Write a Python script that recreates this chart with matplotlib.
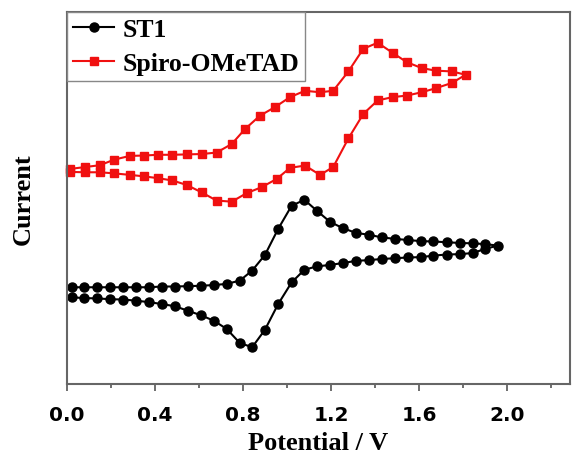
import numpy as np
import matplotlib
matplotlib.use("Agg")
import matplotlib.pyplot as plt
from matplotlib.ticker import MultipleLocator

# ST1: forward scan then reverse scan (potential in V, current in arb. units)
st1_v_fwd = [0.021, 0.077, 0.138, 0.195, 0.256, 0.314, 0.374, 0.430, 0.491, 0.549,
             0.608, 0.668, 0.726, 0.786, 0.842, 0.900, 0.960, 1.021, 1.079, 1.135,
             1.195, 1.253, 1.314, 1.374, 1.430, 1.491, 1.549, 1.608, 1.665, 1.726,
             1.786, 1.844, 1.900, 1.958]
st1_i_fwd = [26.0, 26.0, 26.0, 26.0, 26.0, 26.0, 26.0, 26.2, 26.2, 26.3,
             26.4, 26.6, 26.9, 27.8, 30.5, 34.7, 41.7, 47.9, 49.5, 46.6,
             43.6, 41.9, 40.6, 40.1, 39.4, 39.0, 38.7, 38.4, 38.3, 38.1,
             37.9, 37.8, 37.6, 37.2]
st1_v_rev = [1.900, 1.844, 1.786, 1.726, 1.665, 1.608, 1.549, 1.491, 1.430, 1.374,
             1.314, 1.253, 1.195, 1.135, 1.079, 1.021, 0.960, 0.900, 0.842, 0.786,
             0.726, 0.668, 0.608, 0.549, 0.491, 0.430, 0.374, 0.314, 0.256, 0.195,
             0.138, 0.077, 0.021]
st1_i_rev = [36.3, 35.2, 34.9, 34.8, 34.5, 34.1, 34.0, 33.8, 33.6, 33.3,
             33.1, 32.5, 32.0, 31.6, 30.7, 27.3, 21.5, 14.6, 9.9, 11.0,
             14.8, 17.0, 18.5, 19.7, 20.9, 21.5, 22.0, 22.4, 22.7, 22.8,
             23.0, 23.1, 23.3]

# Spiro-OMeTAD
spiro_v_fwd = [0.014, 0.082, 0.150, 0.215, 0.286, 0.351, 0.415, 0.479, 0.544, 0.612,
               0.680, 0.749, 0.809, 0.877, 0.945, 1.014, 1.082, 1.150, 1.210, 1.279,
               1.347, 1.412, 1.480, 1.544, 1.612, 1.677, 1.749, 1.812]
spiro_i_fwd = [57.8, 58.3, 58.8, 60.3, 61.3, 61.4, 61.6, 61.6, 61.7, 61.8,
               62.2, 64.5, 68.5, 72.1, 74.4, 77.1, 78.8, 78.4, 78.8, 84.0,
               90.1, 91.7, 89.0, 86.5, 84.9, 84.2, 84.0, 83.1]
spiro_v_rev = [1.749, 1.677, 1.612, 1.544, 1.480, 1.412, 1.347, 1.279, 1.210, 1.150,
               1.082, 1.014, 0.953, 0.885, 0.817, 0.749, 0.680, 0.612, 0.544, 0.479,
               0.415, 0.351, 0.286, 0.215, 0.150, 0.082, 0.014]
spiro_i_rev = [80.9, 79.5, 78.4, 77.5, 77.1, 76.2, 72.6, 66.0, 58.3, 56.2,
               58.7, 58.1, 55.1, 52.9, 51.3, 49.0, 49.3, 51.5, 53.5, 54.7,
               55.3, 55.8, 56.2, 56.6, 56.9, 56.9, 57.0]

xtick_vals = [0.0, 0.4, 0.8, 1.2, 1.6, 2.0]
xtick_labels = ["0.0", "0.4", "0.8", "1.2", "1.6", "2.0"]

serif = "Liberation Serif"

fig = plt.figure(figsize=(5.72, 4.6), dpi=100)
ax = fig.add_axes([0.117, 0.163, 0.8795, 0.809])

st1_v = st1_v_fwd + st1_v_rev
st1_i = st1_i_fwd + st1_i_rev
spiro_v = spiro_v_fwd + spiro_v_rev
spiro_i = spiro_i_fwd + spiro_i_rev

ax.plot(st1_v, st1_i, color="black", marker="o", markersize=6.5, lw=1.5,
        label="ST1", clip_on=False)
ax.plot(spiro_v, spiro_i, color="#f01010", marker="s", markersize=5.5, lw=1.5,
        label="Spiro-OMeTAD", clip_on=False)

ax.set_xlim(0, 2.286)
ax.set_ylim(0, 100)
ax.xaxis.set_minor_locator(MultipleLocator(0.2))
ax.set_xticks(xtick_vals)
ax.set_xticklabels(xtick_labels, fontfamily="DejaVu Sans", fontweight="bold",
                   fontsize=14.5)
ax.tick_params(axis="x", which="major", direction="out", length=5, width=1.2,
               color="#555555", pad=10)
ax.tick_params(axis="x", which="minor", direction="out", length=3, width=1.2,
               color="#555555")
ax.set_yticks([])

for s in ax.spines.values():
    s.set_color("#666666")
    s.set_linewidth(1.5)

ax.set_xlabel("Potential / V", fontfamily=serif, fontweight="bold", fontsize=19,
              labelpad=5)
ax.set_ylabel("Current", fontfamily=serif, fontweight="bold", fontsize=19,
              labelpad=23)

leg = ax.legend(loc="upper left", borderaxespad=0, fancybox=False,
                prop={"family": serif, "weight": "bold", "size": 18.5},
                handlelength=1.6, handletextpad=0.3, borderpad=0.25,
                labelspacing=0.4, framealpha=1)
leg.get_frame().set_edgecolor("#888888")
leg.get_frame().set_linewidth(1.0)

fig.savefig("out.png", dpi=100)
